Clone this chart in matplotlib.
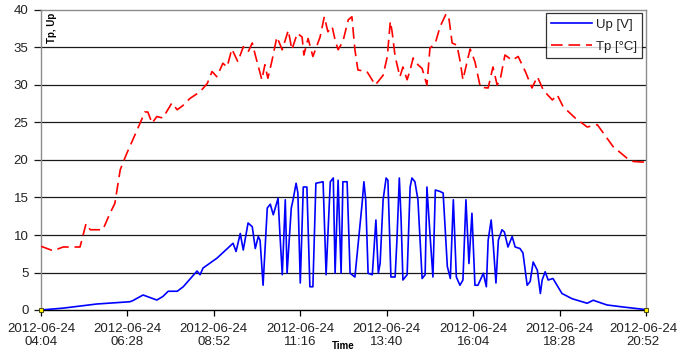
import matplotlib
matplotlib.use("Agg")
import matplotlib.pyplot as plt
from matplotlib.transforms import ScaledTranslation

plt.rcParams['font.family'] = ['Liberation Sans', 'DejaVu Sans']

# Panel voltage Up [V] sampled over the day (clock time, value)
up_times = ["04:04", "04:41", "05:37", "06:32", "06:37", "06:54", "07:17", "07:27", "07:36", "07:51",
            "08:01", "08:24", "08:29", "08:34", "08:57", "09:24", "09:29", "09:36", "09:41", "09:49",
            "09:56", "10:01", "10:06", "10:09", "10:14", "10:21", "10:26", "10:31", "10:39", "10:42",
            "10:46", "10:51", "10:54", "11:01", "11:04", "11:09", "11:12", "11:16", "11:21", "11:27",
            "11:32", "11:37", "11:42", "11:54", "11:59", "12:06", "12:11", "12:14", "12:19", "12:24",
            "12:27", "12:34", "12:39", "12:47", "12:59", "13:02", "13:05", "13:09", "13:16", "13:22",
            "13:26", "13:29", "13:34", "13:39", "13:42", "13:47", "13:54", "13:57", "14:01", "14:04",
            "14:07", "14:14", "14:19", "14:22", "14:27", "14:32", "14:39", "14:44", "14:47", "14:52",
            "14:57", "15:01", "15:09", "15:14", "15:21", "15:26", "15:31", "15:36", "15:42", "15:47",
            "15:52", "15:57", "16:02", "16:07", "16:12", "16:21", "16:26", "16:29", "16:34", "16:37",
            "16:42", "16:46", "16:52", "16:56", "17:02", "17:09", "17:14", "17:22", "17:27", "17:34",
            "17:39", "17:44", "17:51", "17:56", "17:59", "18:04", "18:09", "18:17", "18:32", "18:49",
            "19:14", "19:24", "19:47", "20:14", "20:52"]
up_values = [0.0, 0.25, 0.8, 1.1, 1.25, 2.0, 1.33, 1.8, 2.5, 2.5,
             3.1, 5.2, 4.7, 5.6, 6.9, 8.9, 7.8, 10.2, 8.0, 11.6,
             11.1, 8.2, 9.8, 9.3, 3.3, 13.6, 14.1, 12.7, 14.9, 10.2,
             4.7, 14.7, 4.9, 13.6, 14.7, 16.9, 15.6, 3.6, 16.4, 16.4,
             3.1, 3.1, 16.9, 17.1, 4.7, 17.1, 17.6, 4.9, 17.3, 4.9,
             17.1, 17.1, 4.9, 4.4, 14.2, 17.1, 14.7, 4.9, 4.7, 12.0,
             4.9, 6.2, 14.7, 17.6, 17.3, 4.4, 4.4, 9.3, 17.6, 12.0,
             4.0, 4.7, 16.4, 17.6, 17.1, 14.7, 4.2, 4.7, 16.4, 10.2,
             4.4, 16.0, 15.8, 15.6, 5.8, 4.2, 14.7, 4.4, 3.3, 4.0,
             14.7, 6.2, 12.9, 3.3, 3.3, 4.9, 3.1, 9.3, 12.0, 9.3,
             3.6, 9.3, 10.7, 10.4, 8.4, 9.8, 8.4, 8.2, 7.6, 3.3,
             3.8, 6.4, 5.3, 2.2, 4.0, 5.1, 4.0, 4.2, 2.2, 1.5,
             0.9, 1.3, 0.67, 0.4, 0.05]

# Panel temperature Tp [°C]
tp_times = ["04:04", "04:24", "04:41", "05:09", "05:19", "05:26", "05:47", "05:59", "06:07", "06:16",
            "06:27", "06:37", "06:49", "06:57", "07:02", "07:09", "07:17", "07:27", "07:42", "07:51",
            "08:01", "08:12", "08:29", "08:41", "08:49", "08:57", "09:07", "09:14", "09:22", "09:32",
            "09:41", "09:49", "09:56", "10:01", "10:12", "10:17", "10:22", "10:29", "10:37", "10:46",
            "10:56", "11:02", "11:11", "11:19", "11:22", "11:29", "11:37", "11:49", "11:56", "12:02",
            "12:09", "12:14", "12:19", "12:27", "12:36", "12:42", "12:47", "12:52", "13:07", "13:21",
            "13:34", "13:41", "13:46", "13:49", "13:54", "14:02", "14:07", "14:14", "14:19", "14:24",
            "14:32", "14:39", "14:47", "14:52", "15:01", "15:09", "15:19", "15:24", "15:29", "15:37",
            "15:42", "15:47", "15:56", "15:59", "16:07", "16:16", "16:29", "16:37", "16:44", "16:49",
            "16:57", "17:09", "17:19", "17:31", "17:42", "17:51", "18:01", "18:16", "18:24", "18:34",
            "18:54", "19:14", "19:31", "19:57", "20:21", "20:31", "20:52"]
tp_values = [8.5, 7.9, 8.4, 8.4, 11.5, 10.7, 10.7, 12.9, 14.2, 18.7,
             20.9, 22.7, 24.9, 26.4, 26.4, 24.9, 25.8, 25.6, 27.6, 26.7,
             27.3, 28.2, 29.1, 30.2, 31.8, 31.1, 32.9, 32.4, 34.8, 33.1,
             35.1, 34.4, 35.6, 34.0, 30.7, 32.7, 30.9, 33.3, 36.4, 34.7,
             37.3, 34.7, 36.9, 36.4, 34.0, 36.2, 33.8, 36.4, 39.1, 37.1,
             37.8, 36.0, 34.7, 35.8, 38.7, 39.1, 34.7, 32.0, 31.8, 30.0,
             31.3, 33.8, 38.5, 37.1, 33.8, 31.1, 32.4, 30.7, 32.0, 33.6,
             32.7, 32.2, 30.0, 34.9, 35.6, 37.8, 39.5, 38.7, 35.6, 35.3,
             33.3, 30.7, 33.8, 34.8, 33.1, 29.7, 29.6, 32.4, 30.0, 30.7,
             34.0, 33.3, 33.8, 31.8, 29.6, 31.1, 29.3, 28.0, 28.7, 27.1,
             25.6, 24.4, 24.7, 21.8, 20.2, 19.8, 19.7]

tick_times = ["04:04", "06:28", "08:52", "11:16", "13:40", "16:04", "18:28", "20:52"]
date_label = "2012-06-24"


def to_minutes(hhmm):
    h, m = hhmm.split(":")
    return int(h) * 60 + int(m)


up_x = [to_minutes(t) for t in up_times]
tp_x = [to_minutes(t) for t in tp_times]
tick_x = [to_minutes(t) for t in tick_times]

fig = plt.figure(figsize=(6.78, 3.60), dpi=100)
ax = fig.add_axes([41 / 678, 50 / 360, 605 / 678, 300 / 360])

ax.set_xlim(tick_x[0], tick_x[-1])
ax.set_ylim(0, 40)

# horizontal gridlines
for v in range(5, 40, 5):
    ax.axhline(v, color='#1a1a1a', lw=0.9, zorder=1)

ax.plot(up_x, up_values, color='#0000ff', lw=1.2, label='Up [V]', zorder=3,
        solid_joinstyle='round')
ax.plot(tp_x, tp_values, color='#ff0000', lw=1.2, ls=(0, (7, 3.5)), label='Tp [°C]', zorder=3)
ax.plot([up_x[0], up_x[-1]], [up_values[0], up_values[-1]], ls='none', marker='s',
        ms=3, mfc='#ffee00', mec='#333300', mew=0.6, zorder=4, clip_on=False)

ax.set_yticks(range(0, 45, 5))
ax.set_xticks(tick_x)
ax.set_xticklabels([f"{date_label}\n{t}" for t in tick_times])

for side in ('top', 'right', 'left'):
    ax.spines[side].set_color('#8c8c8c')
    ax.spines[side].set_linewidth(1.0)
ax.spines['bottom'].set_color('black')
ax.spines['bottom'].set_linewidth(1.0)

ax.tick_params(axis='y', direction='out', length=5, width=0.9, color='#1a1a1a',
               labelsize=9.5, labelcolor='#222222', pad=4)
ax.tick_params(axis='x', direction='out', length=4, width=0.9, color='black',
               labelsize=9.5, labelcolor='#222222', pad=5)

# keep the last date label inside the figure edge
last_label = ax.get_xticklabels()[-1]
last_label.set_transform(last_label.get_transform()
                         + ScaledTranslation(-3 / 100, 0, fig.dpi_scale_trans))

ax.text(0.019, 0.99, "Tp, Up", transform=ax.transAxes, rotation=90, ha='center', va='top',
        fontsize=7, fontweight='bold')
fig.text(343 / 678, 1 - 346 / 360, "Time", ha='center', va='center', fontsize=7,
         fontweight='bold')

leg = ax.legend(loc='upper right', bbox_to_anchor=(1.0 - 4 / 605, 1.0 - 3 / 300), frameon=True,
                fancybox=False, edgecolor='black', fontsize=9.5, handlelength=3.1,
                borderpad=0.4, labelspacing=0.75, handletextpad=0.25, borderaxespad=0)
leg.get_frame().set_linewidth(0.9)
for t in leg.get_texts():
    t.set_color('#222222')

fig.savefig("out.png", dpi=100)
